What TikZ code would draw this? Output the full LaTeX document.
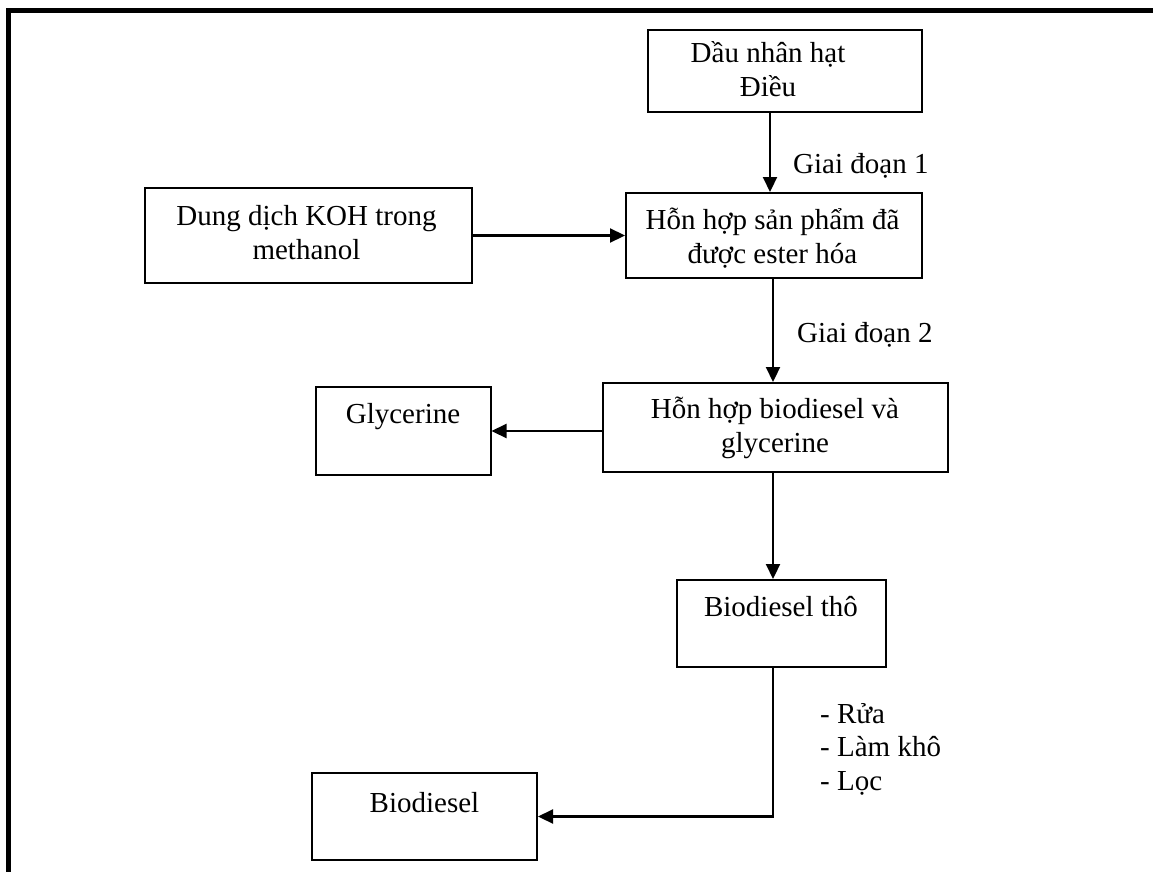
\documentclass[tikz,border=0pt]{standalone}
\usepackage{fontspec}
\setmainfont{Liberation Serif}
\usetikzlibrary{arrows.meta}
\begin{document}
\begin{tikzpicture}[x=1pt,y=-1pt,
  box/.style={draw, line width=2pt, inner sep=0pt, rectangle},
  arr/.style={line width=2.2pt, -{Triangle[length=15pt,width=14pt]}},
  txt/.style={font=\fontsize{29}{34}\selectfont, align=center, inner sep=0pt, anchor=base},
  lab/.style={font=\fontsize{29}{33.5}\selectfont, align=left, inner sep=0pt, anchor=base west}]
\useasboundingbox (0,0) rectangle (1153,872);
\draw[line width=5pt] (8.5,872) -- (8.5,10.5) -- (1153,10.5);
% boxes
\node[box, minimum width=274pt, minimum height=82pt] (dau) at (785,71) {};
\node[box, minimum width=327pt, minimum height=95pt] (koh) at (308.5,235.5) {};
\node[box, minimum width=296pt, minimum height=85pt] (hhsp) at (774,235.5) {};
\node[box, minimum width=345pt, minimum height=89pt] (hhbd) at (775.5,427.5) {};
\node[box, minimum width=175pt, minimum height=88pt] (glyc) at (403,431) {};
\node[box, minimum width=209pt, minimum height=87pt] (tho) at (781.5,623.5) {};
\node[box, minimum width=225pt, minimum height=87pt] (bio) at (424.5,816.5) {};
% texts (base = baseline of last line)
\node[txt] (tdau) at (768,97) {Dầu nhân hạt\\Điều};
\node[txt] (tkoh) at (306.5,259) {Dung dịch KOH trong\\methanol};
\node[txt] (thhsp) at (772.5,263) {Hỗn hợp sản phẩm đã\\được ester hóa};
\node[txt] (thhbd) at (775,452) {Hỗn hợp biodiesel và\\glycerine};
\node[txt] (tglyc) at (403,423) {Glycerine};
\node[txt] (ttho) at (781,616) {Biodiesel thô};
\node[txt] (tbio) at (424.5,812) {Biodiesel};
% labels
\node[lab] (g1) at (793,173) {Giai đoạn 1};
\node[lab] (g2) at (797,342) {Giai đoạn 2};
\node[lab] (steps) at (820,790) {- Rửa\\- Làm khô\\- Lọc};
% connectors
\draw[arr] ([xshift=-15pt]dau.south) -- ([xshift=-4pt]hhsp.north);
\draw[arr] (koh.east) -- (koh.east -| hhsp.west);
\draw[arr] ([xshift=-1pt]hhsp.south) -- ([xshift=-2.5pt]hhbd.north);
\draw[arr] (glyc.east -| hhbd.west) -- (glyc.east);
\draw[arr] ([xshift=-2.5pt]hhbd.south) -- ([xshift=-8.5pt]tho.north);
\draw[arr] ([xshift=-8.5pt]tho.south) |- (bio.east);
\end{tikzpicture}
\end{document}
